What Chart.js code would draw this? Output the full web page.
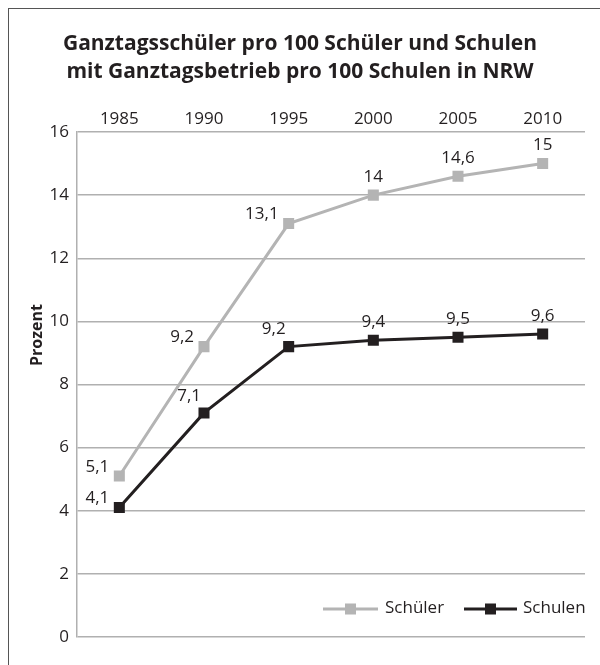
<!DOCTYPE html>
<html>
<head>
<meta charset="utf-8">
<script src="https://cdn.jsdelivr.net/npm/chart.js@4"></script>
<style>
  html, body { margin: 0; padding: 0; background: #fff; overflow: hidden; }
  #wrap { position: relative; width: 600px; height: 665px; overflow: hidden; }
  #frame { position: absolute; left: 8px; top: 8px; width: 700px; height: 800px; border: 1.5px solid #555; box-sizing: border-box; pointer-events: none; }
</style>
</head>
<body>
<div id="wrap">
  <canvas id="chart" width="600" height="665"></canvas>
  <div id="frame"></div>
</div>
<script>
// Chart data
const years = ['1985', '1990', '1995', '2000', '2005', '2010'];
const schueler = [5.1, 9.2, 13.1, 14, 14.6, 15];
const schulen = [4.1, 7.1, 9.2, 9.4, 9.5, 9.6];
const yTicks = [0, 2, 4, 6, 8, 10, 12, 14, 16];

const titleLines = ['Ganztagsschüler pro 100 Schüler und Schulen', 'mit Ganztagsbetrieb pro 100 Schulen in NRW'];
const FONT = '"Open Sans", "Noto Sans", sans-serif';

// Title, y axis title, value labels and legend
const decorPlugin = {
  id: 'decor',
  afterDatasetsDraw(chart, args, opts) {
    const ctx = chart.ctx;
    ctx.save();
    ctx.fillStyle = '#231f20';
    ctx.textAlign = 'center';
    ctx.textBaseline = 'middle';
    ctx.font = 'bold 21px ' + FONT;
    ctx.fillText(titleLines[0], 300, 44);
    ctx.fillText(titleLines[1], 300, 72);

    // y axis title
    ctx.save();
    ctx.translate(37, 335);
    ctx.rotate(-Math.PI / 2);
    ctx.font = 'bold 16px ' + FONT;
    ctx.fillText('Prozent', 0, 0);
    ctx.restore();

    // value labels
    ctx.font = '17px ' + FONT;
    chart.data.datasets.forEach((ds, di) => {
      const meta = chart.getDatasetMeta(di);
      const place = opts.placement[di];
      meta.data.forEach((pt, i) => {
        const text = String(ds.data[i]).replace('.', ',');
        const p = place[i];
        if (p === 'left') {
          ctx.textAlign = 'right';
          ctx.fillText(text, pt.x - 10, pt.y - 9);
        } else if (p === 'topleft') {
          ctx.textAlign = 'right';
          ctx.fillText(text, pt.x - 3, pt.y - 17);
        } else {
          ctx.textAlign = 'center';
          ctx.fillText(text, pt.x, pt.y - 18);
        }
      });
    });

    // legend
    const items = [
      { x1: 323, x2: 378, tx: 385 },
      { x1: 464, x2: 517, tx: 523 },
    ];
    const ly = 609;
    chart.data.datasets.forEach((ds, di) => {
      const it = items[di];
      ctx.strokeStyle = ds.borderColor;
      ctx.lineWidth = 3;
      ctx.beginPath();
      ctx.moveTo(it.x1, ly);
      ctx.lineTo(it.x2, ly);
      ctx.stroke();
      ctx.fillStyle = ds.backgroundColor;
      const mx = (it.x1 + it.x2) / 2;
      ctx.fillRect(mx - 5.5, ly - 5.5, 11, 11);
      ctx.fillStyle = '#231f20';
      ctx.textAlign = 'left';
      ctx.fillText(ds.label, it.tx, ly - 1);
    });
    ctx.restore();
  }
};

new Chart(document.getElementById('chart'), {
  type: 'line',
  data: {
    labels: years,
    datasets: [
      {
        label: 'Schüler',
        data: schueler,
        borderColor: '#b4b4b4',
        backgroundColor: '#b4b4b4',
        borderWidth: 3,
        pointStyle: 'rect',
        pointRadius: 7.8,
        pointBorderWidth: 0,
        tension: 0,
      },
      {
        label: 'Schulen',
        data: schulen,
        borderColor: '#231f20',
        backgroundColor: '#231f20',
        borderWidth: 3,
        pointStyle: 'rect',
        pointRadius: 7.8,
        pointBorderWidth: 0,
        tension: 0,
      },
    ],
  },
  options: {
    responsive: false,
    animation: false,
    layout: { padding: { top: 100, bottom: 28, right: 15, left: 0 } },
    plugins: {
      legend: { display: false },
      tooltip: { enabled: false },
      decor: {
        placement: [
          ['left', 'left', 'left', 'top', 'top', 'top'],
          ['left', 'topleft', 'topleft', 'top', 'top', 'top'],
        ],
      },
    },
    scales: {
      x: {
        position: 'top',
        offset: true,
        grid: { display: false, drawTicks: false },
        border: { display: false },
        ticks: { color: '#231f20', font: { family: FONT, size: 17 }, padding: 3 },
        afterFit(scale) { scale.height = 32; },
      },
      y: {
        min: 0,
        max: 16,
        afterBuildTicks(scale) { scale.ticks = yTicks.map(v => ({ value: v })); },
        grid: { color: '#b0b0b0', lineWidth: 1.5, drawTicks: false },
        border: { color: '#b0b0b0', width: 1.5 },
        ticks: { color: '#231f20', font: { family: FONT, size: 17 }, padding: 8 },
        afterFit(scale) { scale.width = 77; },
      },
    },
  },
  plugins: [decorPlugin],
});
</script>
</body>
</html>
